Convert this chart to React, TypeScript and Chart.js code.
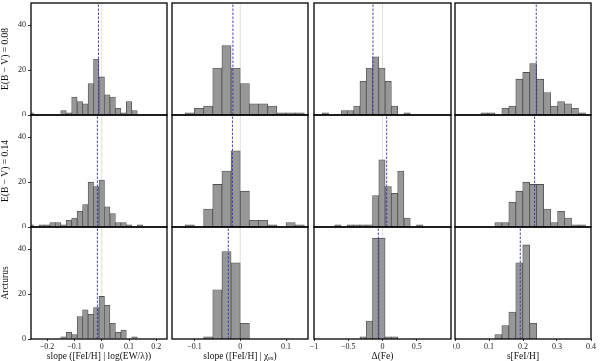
import React, { useEffect, useRef } from "react";
import { Chart, registerables } from "chart.js";

Chart.register(...registerables);

// ---------- text ----------
const rowTitles = ["E(B − V) = 0.08", "E(B − V) = 0.14", "Arcturus"];
const xTitles = ["slope ([FeI/H] | log(EW/λ))", "slope ([FeI/H] | χₑₓ)", "Δ(Fe)", "s[FeI/H]"];

// ---------- y axis ----------
const yMax = 50;
const yTickValues = [0, 20, 40];
const yTickLabels = ["0", "20", "40"];

// ---------- column 1: slope [FeI/H] vs log(EW/lambda) ----------
const slopeEwBins = [-0.26, -0.24, -0.22, -0.2, -0.18, -0.16, -0.14, -0.12, -0.1, -0.08, -0.06, -0.04, -0.02, 0, 0.02, 0.04, 0.06, 0.08, 0.1, 0.12, 0.14];
const slopeEw008 = [1, 0, 0, 0, 0, 0, 2, 1, 8, 6, 5, 14, 25, 17, 9, 8, 3, 1, 6, 2, 0];
const slopeEw014 = [1, 0, 1, 1, 2, 2, 1, 3, 4, 7, 10, 20, 18, 21, 9, 6, 2, 2, 1, 0, 1];
const slopeEwArc = [0, 0, 0, 0, 0, 0, 1, 3, 2, 10, 13, 11, 14, 19, 15, 7, 3, 4, 0, 1, 0];
const slopeEwMeans = [-0.012, -0.016, -0.016];
const slopeEwTicks = [-0.2, -0.1, 0, 0.1, 0.2];
const slopeEwTickLabels = ["−0.2", "−0.1", "0", "0.1", "0.2"];

// ---------- column 2: slope [FeI/H] vs chi_ex ----------
const slopeChiBins = [-0.11, -0.09, -0.07, -0.05, -0.03, -0.01, 0.01, 0.03, 0.05, 0.07, 0.09, 0.11, 0.13];
const slopeChi008 = [1, 3, 4, 21, 31, 21, 14, 5, 5, 4, 1, 1, 1];
const slopeChi014 = [1, 0, 8, 19, 25, 34, 16, 3, 3, 1, 0, 2, 1];
const slopeChiArc = [0, 0, 1, 22, 39, 34, 7, 0, 0, 0, 0, 0, 0];
const slopeChiMeans = [-0.016, -0.017, -0.026];
const slopeChiTicks = [-0.1, 0, 0.1];
const slopeChiTickLabels = ["−0.1", "0", "0.1"];

// ---------- column 3: Delta(Fe) ----------
const deltaBins = [-0.8342, -0.7424, -0.6506, -0.5588, -0.467, -0.3752, -0.2834, -0.1916, -0.0998, -0.008, 0.0838, 0.1756, 0.2674, 0.3592, 0.451, 0.5428];
const delta008 = [1, 0, 0, 2, 2, 4, 15, 21, 26, 21, 15, 4, 0, 1, 0, 0];
const delta014 = [0, 0, 1, 0, 1, 1, 1, 1, 14, 30, 18, 15, 25, 4, 0, 1];
const deltaArc = [0, 0, 0, 0, 0, 0, 1, 8, 45, 45, 1, 1, 0, 0, 0, 0];
const deltaMeans = [-0.139, 0.061, -0.061];
const deltaTicks = [-1, -0.5, 0, 0.5];
const deltaTickLabels = ["−1", "−0.5", "0", "0.5"];

// ---------- column 4: s[FeI/H] ----------
const scatterBins = [0.0865, 0.107, 0.1275, 0.148, 0.1685, 0.189, 0.2095, 0.23, 0.2505, 0.271, 0.2915, 0.312, 0.3325, 0.353, 0.3735];
const scatter008 = [1, 1, 0, 3, 4, 16, 19, 23, 16, 10, 4, 6, 5, 3, 1];
const scatter014 = [0, 0, 2, 2, 11, 16, 20, 19, 19, 8, 2, 7, 4, 1, 1];
const scatterArc = [0, 0, 2, 6, 12, 34, 42, 7, 0, 0, 0, 0, 0, 0, 0];
const scatterMeans = [0.239, 0.234, 0.192];
const scatterTicks = [0, 0.1, 0.2, 0.3, 0.4];
const scatterTickLabels = ["0.0", "0.1", "0.2", "0.3", "0.4"];

// reference (true) value markers per column
const referenceValues: (number | null)[] = [0, 0, 0, null];
const xRanges: [number, number][] = [
  [-0.259, 0.239],
  [-0.149, 0.148],
  [-1.0, 1.0],
  [0, 0.4],
];

const columns = [
  { bins: slopeEwBins, counts: [slopeEw008, slopeEw014, slopeEwArc], means: slopeEwMeans, ticks: slopeEwTicks, labels: slopeEwTickLabels },
  { bins: slopeChiBins, counts: [slopeChi008, slopeChi014, slopeChiArc], means: slopeChiMeans, ticks: slopeChiTicks, labels: slopeChiTickLabels },
  { bins: deltaBins, counts: [delta008, delta014, deltaArc], means: deltaMeans, ticks: deltaTicks, labels: deltaTickLabels },
  { bins: scatterBins, counts: [scatter008, scatter014, scatterArc], means: scatterMeans, ticks: scatterTicks, labels: scatterTickLabels },
];

// ---------- layout ----------
const FONT = "'Liberation Serif', 'DejaVu Serif', serif";
const COL_X: [number, number][] = [[31, 167], [172, 308], [314, 451], [455, 591]];
const ROW_Y: [number, number][] = [[3, 115], [115, 227], [227, 339]];
const PAD_L = [31, 5, 5, 2];
const PAD_R = [2, 2, 1, 8];
const PAD_T = 1;
const PAD_B = [1, 1, 22];

const framePlugin = {
  id: "frame",
  afterDraw(chart: any) {
    const { ctx } = chart;
    const xs = chart.scales.x;
    const ys = chart.scales.y;
    ctx.save();
    ctx.strokeStyle = "#000";
    ctx.lineWidth = 1.3;
    ctx.strokeRect(xs.left, ys.top, xs.right - xs.left, ys.bottom - ys.top);
    ctx.restore();
  },
};

function zeroPadding(s: any) {
  s.paddingLeft = 0;
  s.paddingRight = 0;
  s.paddingTop = 0;
  s.paddingBottom = 0;
}

function Panel({ r, c }: { r: number; c: number }) {
  const ref = useRef<HTMLCanvasElement>(null);
  const [x0, x1] = COL_X[c];
  const [y0, y1] = ROW_Y[r];
  const L = PAD_L[c];
  const R = PAD_R[c];
  const B = PAD_B[r];
  const left = x0 - L;
  const top = y0 - PAD_T;
  const width = x1 - x0 + L + R;
  const height = y1 - y0 + PAD_T + B;

  useEffect(() => {
    const canvas = ref.current;
    if (!canvas) return;
    const col = columns[c];
    const counts = col.counts[r];
    const mean = col.means[r];
    const refVal = referenceValues[c];
    const datasets: any[] = [
      {
        type: "bar",
        data: col.bins.map((x, i) => ({ x, y: counts[i] })),
        backgroundColor: "#979797",
        borderColor: "#505050",
        borderWidth: 0.8,
        barPercentage: 1,
        categoryPercentage: 1,
        order: 2,
        clip: 0,
      },
      {
        type: "line",
        data: [
          { x: mean, y: 0 },
          { x: mean, y: yMax },
        ],
        borderColor: "#3232c4",
        borderWidth: 0.9,
        borderDash: [2.5, 1.5],
        pointRadius: 0,
        order: 0,
      },
    ];
    if (refVal !== null) {
      datasets.push({
        type: "line",
        data: [
          { x: refVal, y: 0 },
          { x: refVal, y: yMax },
        ],
        borderColor: "rgba(0,0,0,0.12)",
        borderWidth: 1,
        pointRadius: 0,
        order: 3,
      });
    }
    const bottomRow = r === 2;
    const firstCol = c === 0;
    const chart = new Chart(canvas, {
      type: "bar",
      data: { datasets },
      options: {
        responsive: false,
        animation: false,
        layout: { padding: { left: 0, right: R, top: PAD_T, bottom: 0 } },
        plugins: { legend: { display: false }, tooltip: { enabled: false } },
        scales: {
          x: {
            type: "linear",
            offset: false,
            min: xRanges[c][0],
            max: xRanges[c][1],
            afterBuildTicks: (s: any) => {
              s.ticks = col.ticks.map((v) => ({ value: v }));
            },
            afterFit: (s: any) => {
              s.height = B;
              zeroPadding(s);
            },
            border: { display: false },
            grid: {
              display: bottomRow,
              offset: false,
              drawOnChartArea: false,
              drawTicks: true,
              tickLength: 2,
              color: "#000",
              lineWidth: 0.8,
            },
            ticks: {
              display: bottomRow,
              autoSkip: false,
              maxRotation: 0,
              padding: 1,
              color: "#222",
              font: { family: FONT, size: 8 },
              callback: (_v: any, i: number) => col.labels[i],
            },
            title: {
              display: bottomRow,
              text: xTitles[c],
              color: "#111",
              padding: 0,
              font: { family: FONT, size: 9.5, lineHeight: 1 },
            },
          },
          y: {
            type: "linear",
            offset: false,
            min: 0,
            max: yMax,
            afterBuildTicks: (s: any) => {
              s.ticks = yTickValues.map((v) => ({ value: v }));
            },
            afterFit: (s: any) => {
              s.width = L;
              zeroPadding(s);
            },
            border: { display: false },
            grid: {
              display: firstCol,
              offset: false,
              drawOnChartArea: false,
              drawTicks: true,
              tickLength: 3,
              color: "#000",
              lineWidth: 0.8,
            },
            ticks: {
              display: firstCol,
              padding: 2,
              color: "#222",
              font: { family: FONT, size: 8 },
              callback: (_v: any, i: number) => yTickLabels[i],
            },
            title: {
              display: firstCol,
              text: rowTitles[r],
              color: "#111",
              padding: { top: 1, bottom: 0 },
              font: { family: FONT, size: 9.5, lineHeight: 1 },
            },
          },
        },
      },
      plugins: [framePlugin],
    } as any);
    return () => chart.destroy();
  }, []);

  return (
    <canvas
      ref={ref}
      width={width}
      height={height}
      style={{ position: "absolute", left, top, width, height }}
    />
  );
}

export default function App() {
  const panels: React.ReactNode[] = [];
  for (let r = 0; r < 3; r++) {
    for (let c = 0; c < 4; c++) {
      panels.push(<Panel key={`${r}-${c}`} r={r} c={c} />);
    }
  }
  return (
    <div
      style={{
        position: "fixed",
        left: 0,
        top: 0,
        width: 600,
        height: 361,
        background: "#fff",
        overflow: "hidden",
      }}
    >
      {panels}
    </div>
  );
}
